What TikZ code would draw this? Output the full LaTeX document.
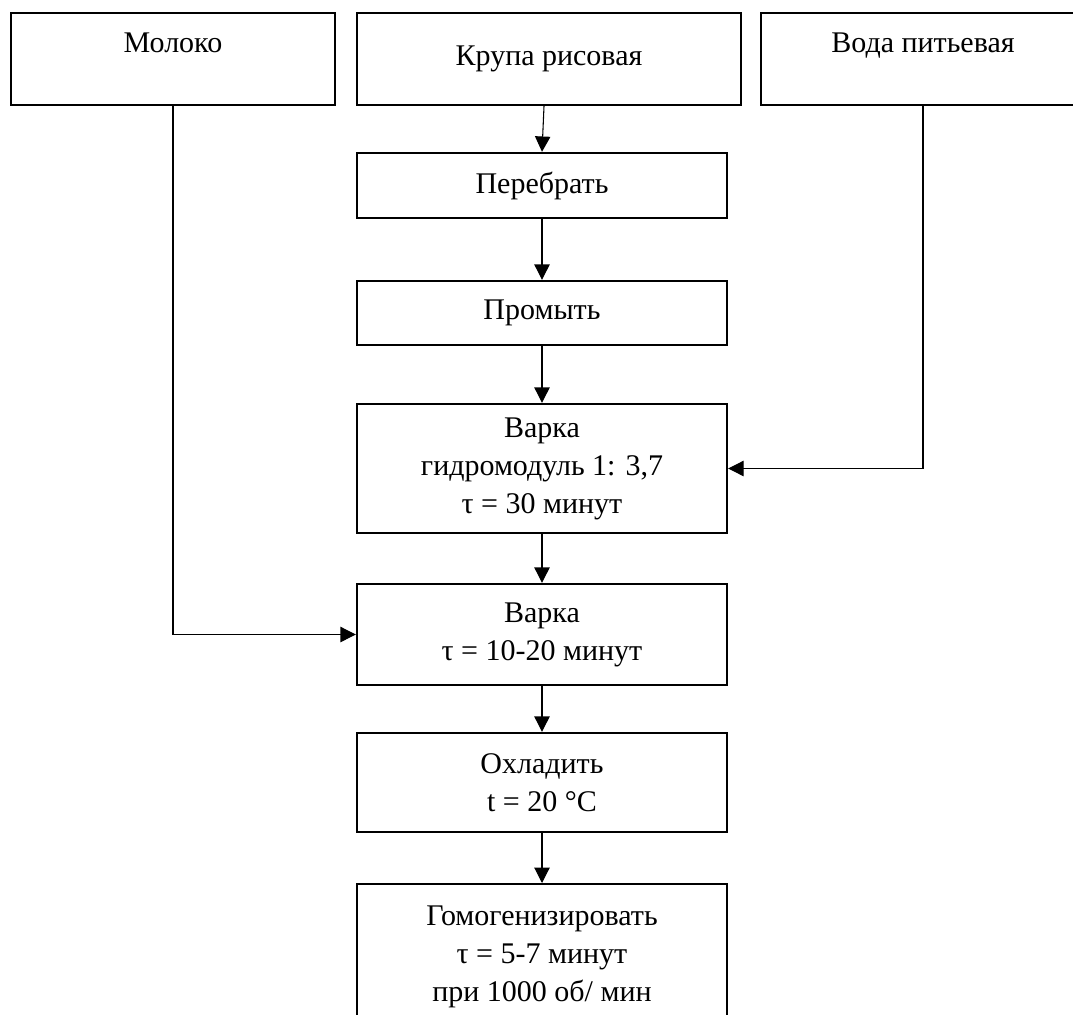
\documentclass[tikz,border=0pt]{standalone}
\usepackage{fontspec}
\setmainfont{Liberation Serif}
\usetikzlibrary{arrows.meta}

\begin{document}
\begin{tikzpicture}[x=0.75pt, y=-0.75pt,
		box/.style={draw, line width=1.8pt, align=center, inner sep=0pt, font=\fontsize{22.5}{28.5}\selectfont},
		arr/.style={line width=0.8pt, -{Triangle[length=11.5pt,width=11.5pt]}}]
		%%%%% START %%%%%
		\useasboundingbox (0, 0) rectangle (1073, 1014);
		
		% raw materials
		\node[box, minimum width=243pt, text height=29.25pt, text depth=39.75pt] (milk) at (173, 59) {Молоко};
		\node[box, minimum width=288pt, text height=39pt, text depth=30pt] (krupa) at (549, 59) {Крупа рисовая};
		\node[box, minimum width=243pt, text height=29.25pt, text depth=39.75pt] (water) at (923, 59) {Вода питьевая};
		
		% process steps
		\node[box, minimum width=277.5pt, minimum height=48.75pt] (pere) at (542, 185.5) {Перебрать};
		\node[box, minimum width=277.5pt, minimum height=48pt] (prom) at (542, 313) {Промыть};
		\node[box, minimum width=277.5pt, minimum height=96.75pt] (varka1) at (542, 468.5) {Варка\\гидромодуль 1: 3,7\\τ = 30 минут};
		\node[box, minimum width=277.5pt, minimum height=75.75pt] (varka2) at (542, 634.5) {Варка\\τ = 10-20 минут};
		\node[box, minimum width=277.5pt, minimum height=74.25pt] (cool) at (542, 782.5) {Охладить\\t = 20 °C};
		\node[box, minimum width=277.5pt, inner ysep=16pt, anchor=north] (homo) at (542, 883) {Гомогенизировать\\τ = 5-7 минут\\при 1000 об/ мин};
		
		% flow
		\draw[arr] ([xshift=1.5pt]pere.north |- krupa.south) -- (pere.north);
		\draw[arr] (pere) -- (prom);
		\draw[arr] (prom) -- (varka1);
		\draw[arr] (varka1) -- (varka2);
		\draw[arr] (varka2) -- (cool);
		\draw[arr] (cool) -- (homo);
		\draw[arr] (water.south) |- (varka1.east);
		\draw[arr] (milk.south) |- (varka2.west);
		%%%%% END %%%%%
\end{tikzpicture}
\end{document}
